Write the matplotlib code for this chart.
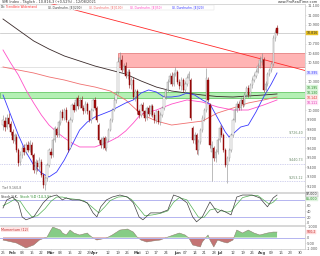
import matplotlib
matplotlib.use("Agg")
import matplotlib.pyplot as plt
import matplotlib.transforms as mtrans
from matplotlib.patches import Rectangle
import numpy as np
import pandas as pd

# ---------------- data ----------------
dates = pd.bdate_range("2021-01-25", "2021-08-12")
axis_days = pd.bdate_range("2021-01-25", "2021-08-31")
month_names = {1: "Jan", 2: "Feb", 3: "Mär", 4: "Apr", 5: "Mai", 6: "Jun", 7: "Jul", 8: "Aug"}

opens = [9847, 9890, 9830, 9920, 9860, 9770, 9680, 9720, 9585, 9460,
         9530, 9610, 9560, 9640, 9585, 9640, 9530, 9370, 9450, 9400,
         9460, 9320, 9215, 9290, 9430, 9565, 9530, 9690, 9800, 9745,
         9870, 9985, 9920, 10000, 9880, 9610, 9900, 10058, 10005, 10130,
         10050, 10110, 10030, 9990, 10070, 9990, 9900, 10005, 10111, 10030,
         9847, 9690, 9637, 9710, 9610, 9690, 9795, 9900, 10005, 10111,
         10195, 10510, 10530, 10426, 10470, 10365, 10410, 10268, 10321, 10140,
         10205, 9995, 9953, 10058, 9990, 9920, 10030, 9960, 10045, 9953,
         9900, 9990, 9880, 9953, 10030, 10140, 10216, 10300, 10365, 10280,
         10385, 10405, 10300, 10258, 10321, 10216, 10280, 10342, 10321, 9815,
         9690, 9742, 9585, 9670, 9795, 9920, 10005, 10321, 10058, 9560,
         9610, 9500, 9565, 9690, 9820, 9742, 9584, 9426, 9500, 9584,
         9742, 9900, 10005, 10070, 10030, 10111, 10070, 10163, 10240, 10163,
         10268, 10321, 10365, 10410, 10470, 10510, 10532, 10216, 10280, 10385,
         10426, 10490, 10760, 10870]
highs = [9953, 9930, 9960, 9975, 9890, 9800, 9760, 9750, 9610, 9570,
         9640, 9650, 9670, 9680, 9690, 9670, 9550, 9490, 9480, 9510,
         9490, 9340, 9310, 9450, 9600, 9610, 9710, 9840, 9830, 9900,
         10010, 10020, 10030, 10040, 9900, 9930, 10080, 10090, 10140, 10160,
         10140, 10150, 10060, 10100, 10090, 10010, 10030, 10130, 10140, 10050,
         9870, 9710, 9730, 9730, 9720, 9820, 9920, 10030, 10140, 10200,
         10560, 10620, 10580, 10500, 10510, 10440, 10440, 10350, 10350, 10230,
         10230, 10020, 10080, 10090, 10010, 10050, 10060, 10070, 10070, 9980,
         10010, 10010, 9980, 10050, 10160, 10240, 10330, 10390, 10400, 10410,
         10460, 10430, 10330, 10350, 10340, 10310, 10370, 10420, 10340, 9840,
         9770, 9760, 9700, 9820, 9950, 10030, 10450, 10350, 10080, 9680,
         9630, 9590, 9710, 9850, 9850, 9760, 9600, 9520, 9610, 9760,
         9920, 10030, 10100, 10100, 10140, 10140, 10190, 10260, 10270, 10290,
         10350, 10390, 10440, 10500, 10570, 10600, 10560, 10310, 10410, 10450,
         10520, 10790, 10860, 10900]
lows = [9795, 9780, 9800, 9830, 9740, 9660, 9650, 9560, 9420, 9430,
        9500, 9530, 9540, 9560, 9560, 9510, 9340, 9330, 9360, 9370,
        9300, 9180, 9160, 9260, 9410, 9500, 9510, 9670, 9720, 9720,
        9850, 9900, 9900, 9880, 9560, 9590, 9880, 9980, 9990, 10020,
        10030, 10010, 9960, 9970, 9960, 9880, 9870, 9990, 10000, 9880,
        9660, 9600, 9590, 9580, 9570, 9670, 9780, 9880, 9990, 10080,
        10170, 10480, 10400, 10390, 10340, 10330, 10240, 10230, 10120, 10100,
        9960, 9920, 9930, 9960, 9890, 9900, 9940, 9940, 9930, 9870,
        9870, 9860, 9850, 9930, 10010, 10120, 10190, 10280, 10260, 10260,
        10360, 10280, 10230, 10220, 10190, 10180, 10260, 10320, 9900, 9660,
        9650, 9540, 9530, 9650, 9770, 9890, 9980, 10090, 9600, 9260,
        9470, 9460, 9540, 9670, 9720, 9560, 9400, 9240, 9470, 9560,
        9720, 9880, 9980, 10000, 10010, 10040, 10050, 10140, 10140, 10140,
        10240, 10300, 10340, 10390, 10450, 10480, 10190, 10190, 10260, 10360,
        10400, 10470, 10730, 10790]
closes = [9900, 9825, 9920, 9860, 9770, 9690, 9740, 9585, 9450, 9530,
          9610, 9560, 9640, 9585, 9660, 9530, 9370, 9460, 9400, 9480,
          9320, 9215, 9290, 9430, 9585, 9530, 9690, 9820, 9745, 9880,
          9985, 9920, 10005, 9900, 9585, 9900, 10058, 10005, 10111, 10050,
          10110, 10030, 9990, 10070, 9990, 9900, 10005, 10111, 10030, 9900,
          9690, 9637, 9710, 9610, 9690, 9795, 9900, 10005, 10111, 10163,
          10510, 10555, 10426, 10470, 10365, 10410, 10268, 10321, 10140, 10205,
          9995, 9953, 10058, 9990, 9920, 10030, 9960, 10045, 9953, 9900,
          9990, 9880, 9953, 10030, 10140, 10216, 10300, 10365, 10280, 10385,
          10426, 10300, 10258, 10321, 10216, 10280, 10342, 10385, 9920, 9690,
          9742, 9585, 9670, 9795, 9920, 10005, 10342, 10111, 9637, 9640,
          9500, 9565, 9690, 9820, 9742, 9584, 9426, 9500, 9584, 9742,
          9900, 10005, 10070, 10030, 10111, 10070, 10163, 10240, 10163, 10268,
          10321, 10365, 10410, 10470, 10532, 10555, 10216, 10280, 10385, 10426,
          10490, 10760, 10830, 10816]

# moving averages (read at sampled bars)
ma_idx = [0, 8, 16, 24, 32, 40, 48, 56, 64, 72, 80, 88, 96, 104, 112, 120, 128, 136, 143]
ma200 = [10963, 10847, 10732, 10647, 10574, 10521, 10468, 10426, 10384, 10311,
         10247, 10205, 10184, 10163, 10147, 10142, 10153, 10163, 10174]
ma100 = [10458, 10426, 10395, 10353, 10321, 10279, 10247, 10205, 10111, 9963,
         9889, 9847, 9868, 9889, 9974, 10026, 10079, 10111, 10142]
ma50_idx = [0, 4, 8, 12, 16, 20, 24, 28, 32, 36, 40, 44, 48, 52, 56, 60, 64, 68,
            72, 80, 88, 96, 104, 112, 120, 128, 136, 143]
ma50 = [10637, 10500, 10374, 10216, 10079, 9953, 9847, 9774, 9711, 9658, 9616,
        9616, 9616, 9647, 9679, 9721, 9784, 9868, 9963, 10005, 10068, 10111,
        10089, 10037, 10005, 10005, 10058, 10111]
ma20_idx = [0, 4, 8, 12, 16, 20, 24, 28, 32, 36, 40, 44, 48, 52, 56, 60, 64, 68, 72,
            76, 80, 84, 88, 92, 96, 100, 104, 108, 112, 116, 118, 120, 124, 128,
            132, 136, 140, 143]
ma20 = [10163, 9953, 9742, 9563, 9426, 9342, 9300, 9353, 9479, 9637, 9795, 9879,
        9932, 9963, 9995, 10037, 10079, 10111, 10184, 10216, 10195, 10142, 10142,
        10153, 10184, 10163, 10111, 10068, 9921, 9774, 9721, 9753, 9826, 9847,
        9984, 10142, 10279, 10395]

trend_idx = [25, 157.6]
trend_val = [11125, 10421]
res_zone = (10460, 10600)
res_start = 60
sup_zone = (10130, 10195)
dotted_levels = [9726, 9442, 9253]
dotted_labels = ["9.726,40", "9.440,73", "9.253,12"]
last_price = 10816

stk_idx = [0, 2, 5, 8, 10, 12, 16, 21, 24, 28, 31, 33, 36, 40, 44, 47, 49, 51, 54, 57,
           61, 65, 68, 71, 73, 77, 82, 86, 89, 92, 96, 99, 101, 104, 108, 112, 114,
           117, 119, 122, 125, 130, 134, 138, 141, 143]
stk = [52, 80, 90, 70, 21, 11, 21, 70, 90, 97, 80, 87, 80, 80, 70, 35, 21, 56, 80, 90,
       97, 90, 70, 21, 11, 35, 35, 45, 97, 90, 70, 21, 4, 21, 73, 35, 45, 35, 28, 90,
       97, 97, 87, 56, 87, 97]
std_idx = [0, 3, 6, 9, 12, 15, 18, 22, 25, 28, 31, 34, 38, 42, 46, 50, 53, 56, 60, 64,
           67, 71, 74, 78, 82, 86, 89, 92, 96, 99, 102, 105, 108, 111, 114, 117, 119,
           122, 125, 129, 133, 136, 139, 141, 143]
std = [60, 70, 82, 75, 45, 22, 25, 50, 75, 90, 90, 85, 82, 78, 58, 35, 55, 78, 90, 92,
       82, 50, 25, 28, 33, 42, 72, 88, 80, 50, 20, 20, 45, 50, 42, 38, 40, 65, 88, 95,
       95, 80, 65, 72, 85]

mom_idx = [0, 7, 12, 16, 19, 23, 25, 26, 30, 31, 33, 35, 37, 40, 44, 45, 47, 49, 54, 57,
           61, 65, 68, 70, 72, 75, 78, 82, 86, 89, 92, 95, 97, 99, 103, 104, 107, 108,
           110, 112, 115, 117, 120, 122, 125, 128, 131, 134, 138, 141, 143]
mom = [-230, -500, -950, -680, -230, 45, 680, 950, 680, 410, 230, 680, 410, 230, 410,
       230, -45, -230, -45, 230, 680, 775, 500, 45, -230, -410, -320, -230, 45, 230,
       410, 230, -45, -680, -860, -410, 230, -230, -860, -230, -410, -500, -230, 680,
       410, 680, 410, 230, 410, 500, 500]

# ---------------- figure ----------------
W, H = 320, 256
fig = plt.figure(figsize=(W / 100, H / 100), dpi=100)
fig.patch.set_facecolor("white")


def rect(x0, y0, x1, y1):
    return [x0 / W, 1 - y1 / H, (x1 - x0) / W, (y1 - y0) / H]


ax = fig.add_axes(rect(0, 4, 305, 192))
axs = fig.add_axes(rect(0, 193, 305, 225))
axm = fig.add_axes(rect(0, 226, 305, 248.5))

XL = (-1.57, 157.6)
GRAY = "#c8c8c8"
LAB = "#555555"
FS = 2.5
TFS = 2.3

for a in (ax, axs, axm):
    a.set_xlim(*XL)
    for s in a.spines.values():
        s.set_color(GRAY)
        s.set_linewidth(0.5)
    a.spines["left"].set_visible(False)
    a.yaxis.tick_right()
    a.tick_params(axis="y", length=1.0, width=0.4, colors=GRAY, labelcolor=LAB,
                  labelsize=FS, pad=0.6)
    a.tick_params(axis="x", length=0, labelbottom=False)

# ---- main panel ----
ax.set_ylim(9142, 11121)
idx = np.arange(len(dates))
o = np.array(opens, float)
c = np.array(closes, float)
hi = np.array(highs, float)
lo = np.array(lows, float)
up = c >= o

ax.axhspan(*res_zone, xmin=(res_start - XL[0]) / (XL[1] - XL[0]), xmax=1,
           facecolor="#ffb4b4", edgecolor="#e07070", lw=0.5, zorder=1)
ax.hlines(res_zone[0], XL[0], res_start, color="#d8d8d8", lw=0.5, zorder=1)
ax.axhspan(*sup_zone, facecolor="#b4f0b4", edgecolor="#50c050", lw=0.5, zorder=1)
for lvl in dotted_levels:
    ax.axhline(lvl, color="#a8a8e0", lw=0.5, ls=(0, (1, 1.5)), zorder=1)
btr = mtrans.blended_transform_factory(ax.transAxes, ax.transData)
for lvl, t in zip(dotted_levels, dotted_labels):
    ax.text(0.995, lvl + 12, t, transform=btr, ha="right", va="bottom",
            fontsize=2.3, color="#6a8a6a", zorder=5)
ax.axhline(last_price, color="#c0c0c0", lw=0.5, zorder=1)

ax.plot(ma_idx, ma200, color="#3a2a2a", lw=0.6, zorder=3)
ax.plot(ma_idx, ma100, color="#f07070", lw=0.6, zorder=3)
ax.plot(ma50_idx, ma50, color="#ff50c8", lw=0.6, zorder=3)
ax.plot(ma20_idx, ma20, color="#3a3aff", lw=0.6, zorder=3)
ax.plot(trend_idx, trend_val, color="#ff2a2a", lw=0.6, zorder=3)

ax.vlines(idx[up], lo[up], hi[up], color="#8a8a8a", lw=0.4, zorder=4)
ax.vlines(idx[~up], lo[~up], hi[~up], color="#8b1a1a", lw=0.4, zorder=4)
ax.bar(idx[up], (c - o)[up], bottom=o[up], width=0.62, color="white",
       edgecolor="#8a8a8a", lw=0.3, zorder=4)
ax.bar(idx[~up], (o - c)[~up], bottom=c[~up], width=0.62, color="#a00d0d",
       edgecolor="#8b0000", lw=0.3, zorder=4)


def tag(axis, y, text, fc, tc, ec=None):
    tr = mtrans.blended_transform_factory(axis.transAxes, axis.transData)
    axis.text(1.004, y, text, transform=tr, ha="left", va="center", fontsize=TFS,
              color=tc, zorder=10, clip_on=False,
              bbox=dict(boxstyle="square,pad=0.12", fc=fc, ec=ec or fc, lw=0.3))


tags_main = [
    (last_price, f"{last_price / 1000:.3f}", "#e8c020", "#333333"),
    (ma20[-1], f"{ma20[-1] / 1000:.3f}", "#e4e4ff", "#3a3aff"),
    (10240, f"{sup_zone[1] / 1000:.3f}", "#d8f4d8", "#2a8a2a"),
    (10188, f"{sup_zone[0] / 1000:.3f}", "#d8f4d8", "#2a8a2a"),
    (10136, f"{ma100[-1] / 1000:.3f}", "#ffe4e4", "#e04040"),
    (10084, f"{ma50[-1] / 1000:.3f}", "#ffe4f6", "#e030b0"),
]
for y, t, fc, tc in tags_main:
    tag(ax, y, t, fc, tc)

yt = [v for v in range(9200, 11101, 100)
      if all(abs(v - tg[0]) > 42 for tg in tags_main)]
ax.set_yticks(yt)
ax.set_yticklabels([f"{v / 1000:.3f}" for v in yt])

ax.text(0.006, 9185, "Tief 9.160,8", transform=btr, fontsize=2.3, color="#666666",
        ha="left", va="center")

# ---- stochastic ----
axs.set_ylim(-7, 104)
axs.axhline(80, color="#b4b4f0", lw=0.7)
axs.axhline(20, color="#b4b4f0", lw=0.7)
axs.plot(std_idx, std, color="#55b055", lw=0.5)
axs.plot(stk_idx, stk, color="#404040", lw=0.5)
axs.set_yticks([0, 20, 40, 60])
axs.set_yticklabels(["0", "20", "40", "60"])
tag(axs, 99, f"{stk[-1]:.3f}".replace(".", ","), "#f0f0f0", "#333333", "#999999")
tag(axs, 83, f"{std[-1]:.3f}".replace(".", ","), "#dff3df", "#2a8a2a")
axs.text(0.004, 0.93, "Stoch %K,", transform=axs.transAxes, fontsize=2.4,
         color="#333333", ha="left", va="top")
axs.text(0.066, 0.93, "Stoch %D (14,3,5)", transform=axs.transAxes, fontsize=2.4,
         color="#2a8a2a", ha="left", va="top")

# ---- momentum ----
axm.set_ylim(-1000, 1050)
mi = np.array(mom_idx, float)
mv = np.array(mom, float)
axm.fill_between(mi, mv, 0, where=mv >= 0, interpolate=True, color="#86cc86", lw=0)
axm.fill_between(mi, mv, 0, where=mv <= 0, interpolate=True, color="#c47474", lw=0)
axm.plot(mi, mv, color="#8a7a6a", lw=0.35)
axm.axhline(0, color="#b4b4f0", lw=0.7)
axm.set_yticks([-1000, -500, 0, 1000])
axm.set_yticklabels(["-1.000", "-500", "0", "1.000"])
tag(axm, mom[-1], "500,2", "#ffd8d8", "#c03030")
axm.text(0.004, 0.93, "Momentum (12)", transform=axm.transAxes, fontsize=2.4,
         color="#c03030", ha="left", va="top",
         bbox=dict(boxstyle="square,pad=0.1", fc="#ffe6e6", ec="none"))

# ---- x axis ticks ----
firsts = [i for i in range(1, len(axis_days)) if axis_days[i].month != axis_days[i - 1].month]
tpos, tlab, tbold = [], [], []
for i, d in enumerate(axis_days):
    if i in firsts:
        tpos.append(i); tlab.append(month_names[d.month]); tbold.append(True)
    elif d.weekday() == 0 and all(abs(i - j) > 2 for j in firsts):
        tpos.append(i); tlab.append(f"{d.day:02d}"); tbold.append(False)
axm.set_xticks(tpos)
axm.set_xticklabels(tlab)
axm.tick_params(axis="x", labelbottom=True, length=1.0, width=0.4, colors=GRAY,
                labelcolor="#444444", labelsize=2.7, pad=0.8)
for lab, b in zip(axm.get_xticklabels(), tbold):
    if b:
        lab.set_fontweight("bold")

# ---- header ----
fig.text(2 / W, 1 - 2.2 / H, "SMI Index - Täglich - 10.816,3 (+0,52%) - 12/08/2021",
         fontsize=2.5, color="#333333", ha="left", va="center")
fig.text(318 / W, 1 - 2.2 / H, "www.ProRealTime.com", fontsize=2.5, color="#333333",
         ha="right", va="center")
fig.patches.append(Rectangle((0, 1 - 9.5 / H), 214 / W, 5 / H, transform=fig.transFigure,
                             facecolor="white", edgecolor="#dddddd", lw=0.3, zorder=20))
segs = [(1, "Dfc", "#333333"), (6, "Trendlinie Widerstand", "#ff2a2a"),
        (48, "Gl. Durchschn. [E](200)", "#333333"), (89, "Gl. Durchschn. [E](100)", "#f06060"),
        (130, "Gl. Durchschn. [E](50)", "#ff40c0"), (172, "Gl. Durchschn. [E](20)", "#3030ff")]
for x, t, col in segs:
    fig.text(x / W, 1 - 7 / H, t, fontsize=2.1, color=col, ha="left", va="center", zorder=21)

fig.savefig("out.png", dpi=100, facecolor="white")
